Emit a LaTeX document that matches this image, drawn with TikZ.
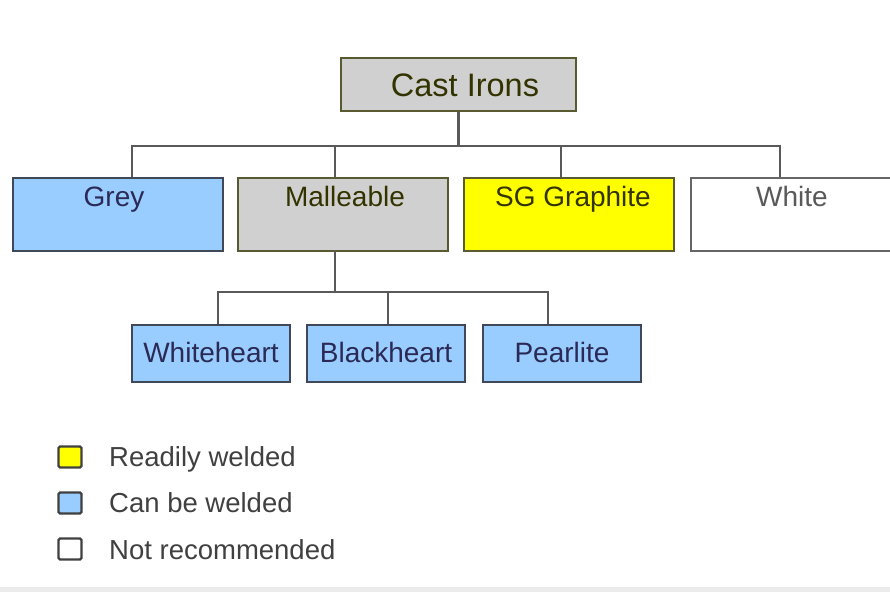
\documentclass[tikz,border=0pt]{standalone}
\usepackage{fontspec}
\setmainfont{Liberation Sans}
\begin{document}
\begin{tikzpicture}[x=1pt,y=-1pt,
  box/.style={draw=#1, line width=2pt, rectangle, inner sep=0pt, anchor=north west},
  link/.style={draw=black!65, line width=2.2pt},
  lbl/.style={anchor=base, inner sep=0pt, text=#1, font=\fontsize{28}{30}\selectfont},
  lsq/.style={draw=black!75, line width=2.2pt, minimum width=23pt, minimum height=21pt, inner sep=0pt, rounded corners=1.5pt},
  ltext/.style={anchor=base west, text=black!75, font=\fontsize{27.5}{29}\selectfont, inner sep=0pt}]
\definecolor{lblue}{HTML}{99CCFF}
\definecolor{lgrey}{HTML}{D0D0D0}
\definecolor{yel}{HTML}{FFFF00}
\definecolor{olive}{HTML}{333300}
\definecolor{navy}{HTML}{2A2A55}
\definecolor{obord}{HTML}{5A5A30}
\definecolor{bbord}{HTML}{404858}
\path[use as bounding box] (0,0) rectangle (890,592);
\fill[black!8] (0,587) rectangle (890,592);
% top
\node[box=obord, fill=lgrey, minimum width=235pt, minimum height=53pt] (cast) at (340,57) {};
\node[lbl=olive, font=\fontsize{32.5}{34}\selectfont] at (465,96) {Cast Irons};
% second row
\node[box=bbord, fill=lblue, minimum width=210pt, minimum height=73pt] (grey) at (12,177) {};
\node[box=obord, fill=lgrey, minimum width=210pt, minimum height=73pt] (mall) at (237,177) {};
\node[box=obord, fill=yel, minimum width=210pt, minimum height=73pt] (sg) at (463,177) {};
\node[box=black!60, fill=white, minimum width=205pt, minimum height=73pt] (white) at (690,177) {};
\node[lbl=navy] at (114,206) {Grey};
\node[lbl=olive] at (345,206) {Malleable};
\node[lbl=olive] at (573,206) {SG Graphite};
\node[lbl=black!65] at (792,206) {White};
% third row
\node[box=bbord, fill=lblue, minimum width=158pt, minimum height=57pt] (wh) at (131,324) {};
\node[box=bbord, fill=lblue, minimum width=158pt, minimum height=57pt] (bh) at (306,324) {};
\node[box=bbord, fill=lblue, minimum width=158pt, minimum height=57pt] (pe) at (482,324) {};
\node[lbl=navy] at (211,362) {Whiteheart};
\node[lbl=navy] at (386,362) {Blackheart};
\node[lbl=navy] at (562,362) {Pearlite};
% connectors
\coordinate (b1) at (cast.south |- 0,146);
\draw[link] (cast.south) -- (b1);
\draw[link] (132,177) |- (b1) -| (780,177);
\draw[link] (335,177) -- (335,146);
\draw[link] (561,177) -- (561,146);
\coordinate (b2) at (335,292);
\draw[link] (335,250) -- (b2);
\draw[link] (218,324) |- (b2) -| (548,324);
\draw[link] (388,324) -- (388,292);
% legend
\node[lsq, fill=yel] (l1) at (70,457) {};
\node[lsq, fill=lblue] (l2) at (70,503) {};
\node[lsq, fill=white] (l3) at (70,549) {};
\node[ltext] (t1) at (109,466) {Readily welded};
\node[ltext] (t2) at (109,512) {Can be welded};
\node[ltext] (t3) at (109,559) {Not recommended};
\end{tikzpicture}
\end{document}
